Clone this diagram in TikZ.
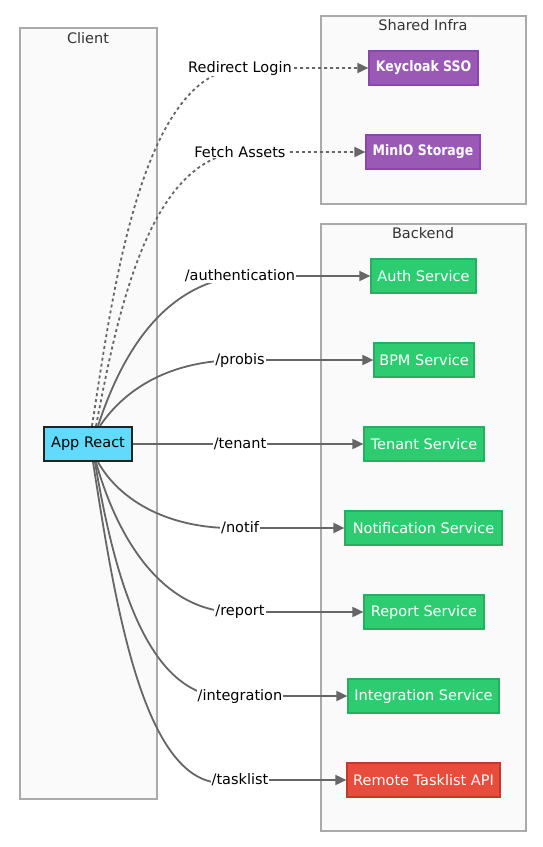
\documentclass[tikz,border=0pt]{standalone}
\usepackage{fontspec}
\setmainfont{DejaVu Sans}
\newfontfamily\infrafont[FakeStretch=0.86]{DejaVu Sans Bold}
\usetikzlibrary{arrows.meta}
\definecolor{edgec}{HTML}{666666}
\definecolor{clfill}{HTML}{FAFAFA}
\definecolor{clline}{HTML}{AAAAAA}
\definecolor{gfill}{HTML}{2ECC71}
\definecolor{gline}{HTML}{27AE60}
\definecolor{pfill}{HTML}{9B59B6}
\definecolor{pline}{HTML}{8E44AD}
\definecolor{rfill}{HTML}{E74C3C}
\definecolor{rline}{HTML}{C0392B}
\definecolor{afill}{HTML}{61DAFB}
\definecolor{aline}{HTML}{222222}
\definecolor{titlec}{HTML}{333333}
\pgfdeclarelayer{back}
\pgfdeclarelayer{mid}
\pgfsetlayers{back,mid,main}
\tikzset{
  txt/.style={font=\fontsize{14.5}{17}\selectfont},
  cluster/.style={draw=clline, fill=clfill, line width=1.5pt},
  ctitle/.style={txt, text=titlec, inner sep=0pt},
  svc/.style={txt, draw=gline, fill=gfill, text=white, line width=1.2pt, minimum height=34pt, inner xsep=3pt},
  infra/.style={font=\infrafont\fontsize{14.5}{17}\selectfont, draw=pline, fill=pfill, text=white, line width=1.2pt, minimum height=34pt, inner xsep=2pt},
  remote/.style={svc, draw=rline, fill=rfill},
  appbox/.style={txt, draw=aline, fill=afill, text=black, line width=2.2pt, minimum width=88pt, minimum height=34pt},
  elabel/.style={txt, fill=white, text=black, inner xsep=1pt, inner ysep=0.5pt},
  conn/.style={draw=edgec, line width=1.8pt, -{Triangle[length=11pt,width=10pt]}},
  dotconn/.style={conn, dash pattern=on 3pt off 3pt}
}
\begin{document}
\begin{tikzpicture}[x=1pt,y=-1pt]
\useasboundingbox (0,0) rectangle (543,847);
\begin{pgfonlayer}{back}
  \draw[cluster] (20,28) rectangle (157,799);
  \draw[cluster] (321,16) rectangle (526,204);
  \draw[cluster] (321,224) rectangle (526,831);
\end{pgfonlayer}
\node[ctitle] (tclient) at (88,38) {Client};
\node[ctitle] (tshared) at (423,25) {Shared Infra};
\node[ctitle] (tbackend) at (423,233) {Backend};

\node[appbox] (app) at (88,444) {App React};

\node[infra, minimum width=109pt] (kc) at (423.5,68) {Keycloak SSO};
\node[infra, minimum width=114pt] (minio) at (423,152) {MinIO Storage};

\node[svc, minimum width=105pt] (auth) at (423.5,276) {Auth Service};
\node[svc, minimum width=100pt] (bpm) at (424,360) {BPM Service};
\node[svc, minimum width=120pt] (tenant) at (424,444) {Tenant Service};
\node[svc, minimum width=157pt] (notif) at (423.5,528) {Notification Service};
\node[svc, minimum width=120pt] (report) at (424,612) {Report Service};
\node[svc, minimum width=151pt] (integ) at (423.5,696) {Integration Service};
\node[remote, minimum width=153pt] (task) at (423.5,780) {Remote Tasklist API};

\node[elabel] (lrl) at (240,68) {Redirect Login};
\node[elabel] (lfa) at (240,152) {Fetch Assets};
\node[elabel] (lau) at (240,276) {/authentication};
\node[elabel] (lpr) at (240,360) {/probis};
\node[elabel] (lte) at (240,444) {/tenant};
\node[elabel] (lno) at (240,528) {/notif};
\node[elabel] (lre) at (240,612) {/report};
\node[elabel] (lin) at (240,696) {/integration};
\node[elabel] (lta) at (240,780) {/tasklist};

\begin{pgfonlayer}{mid}
  \draw[dotconn] ([xshift=4pt]app.north) .. controls +(20,-127) and +(-100,7) .. (lrl.center) -- (kc.west);
  \draw[dotconn] ([xshift=8pt]app.north) .. controls +(19,-97) and +(-95,8) .. (lfa.center) -- (minio.west);
  \draw[conn] ([xshift=10pt]app.north) .. controls +(22,-67) and +(-80,9) .. (lau.center) -- (auth.west);
  \draw[conn] ([xshift=12pt]app.north) .. controls +(25,-37) and +(-70,0) .. (lpr.center) -- (bpm.west);
  \draw[conn] (app.east) -- (lte.center) -- (tenant.west);
  \draw[conn] ([xshift=10pt]app.south) .. controls +(22,39) and +(-70,2) .. (lno.center) -- (notif.west);
  \draw[conn] ([xshift=8pt]app.south) .. controls +(22,79) and +(-75,3) .. (lre.center) -- (report.west);
  \draw[conn] ([xshift=7pt]app.south) .. controls +(20,119) and +(-90,14) .. (lin.center) -- (integ.west);
  \draw[conn] ([xshift=5pt]app.south) .. controls +(22,139) and +(-95,30) .. (lta.center) -- (task.west);
\end{pgfonlayer}
\end{tikzpicture}
\end{document}
